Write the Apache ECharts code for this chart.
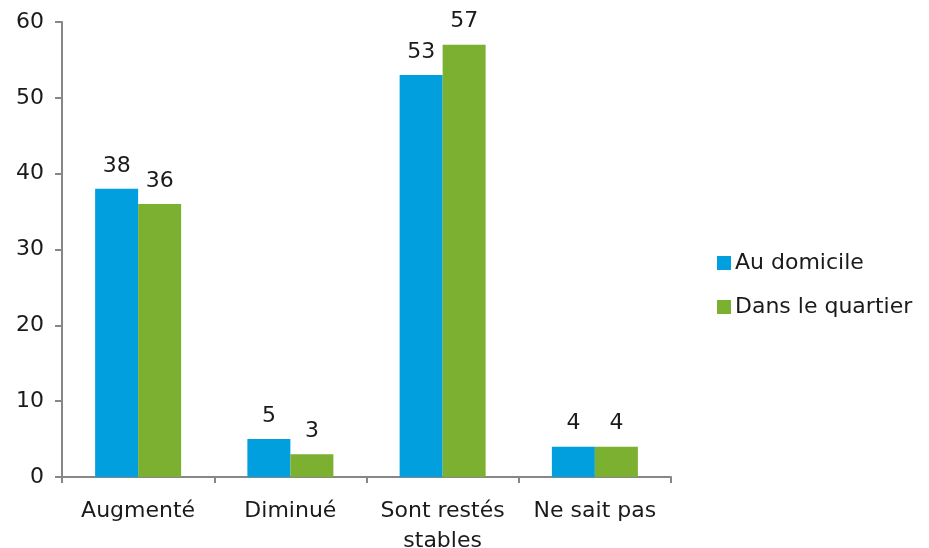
<!DOCTYPE html>
<html><head><meta charset="utf-8">
<script src="https://cdn.jsdelivr.net/npm/echarts@6/dist/echarts.min.js"></script>
<style>html,body{margin:0;padding:0;background:#fff}#c{width:929px;height:548px}</style>
</head><body><div id="c"></div>
<script>
const categories = ['Augmenté', 'Diminué', 'Sont restés\nstables', 'Ne sait pas'];
const seriesNames = ['Au domicile', 'Dans le quartier'];
const domicile = [38, 5, 53, 4];
const quartier = [36, 3, 57, 4];
const yTicks = { min: 0, max: 60, interval: 10 };

const FONT = 'DejaVu Sans';
const FS = 22;
const chart = echarts.init(document.getElementById('c'), null, { renderer: 'canvas' });
const axisColor = '#878787';
const label = { show: true, position: 'top', distance: 12, color: '#1a1a1a', fontFamily: FONT, fontSize: FS };
chart.setOption({
  animation: false,
  textStyle: { fontFamily: FONT },
  grid: { left: 62, top: 22, width: 609, height: 455, containLabel: false, outerBoundsMode: 'none' },
  legend: {
    orient: 'vertical', left: 712, top: 247, itemWidth: 14, itemHeight: 14, itemGap: 22,
    icon: 'rect',
    textStyle: { fontFamily: FONT, fontSize: FS, color: '#1a1a1a', padding: [0, 0, 0, -1] },
    data: seriesNames
  },
  xAxis: {
    type: 'category', data: categories,
    axisLine: { lineStyle: { color: axisColor, width: 2 } },
    axisTick: { show: true, length: 6, lineStyle: { color: axisColor, width: 2 } },
    axisLabel: { color: '#1a1a1a', fontFamily: FONT, fontSize: FS, margin: 19, lineHeight: 30, interval: 0 }
  },
  yAxis: {
    type: 'value', min: yTicks.min, max: yTicks.max, interval: yTicks.interval,
    splitLine: { show: false },
    axisLine: { show: true, lineStyle: { color: axisColor, width: 2 } },
    axisTick: { show: true, length: 7, lineStyle: { color: axisColor, width: 2 } },
    axisLabel: { color: '#1a1a1a', fontFamily: FONT, fontSize: FS, margin: 18 }
  },
  series: [
    { name: seriesNames[0], type: 'bar', data: domicile, barWidth: 43, barGap: '0%',
      itemStyle: { color: '#019fde' }, label },
    { name: seriesNames[1], type: 'bar', data: quartier, barWidth: 43,
      itemStyle: { color: '#7cb030' }, label }
  ]
});
</script></body></html>
